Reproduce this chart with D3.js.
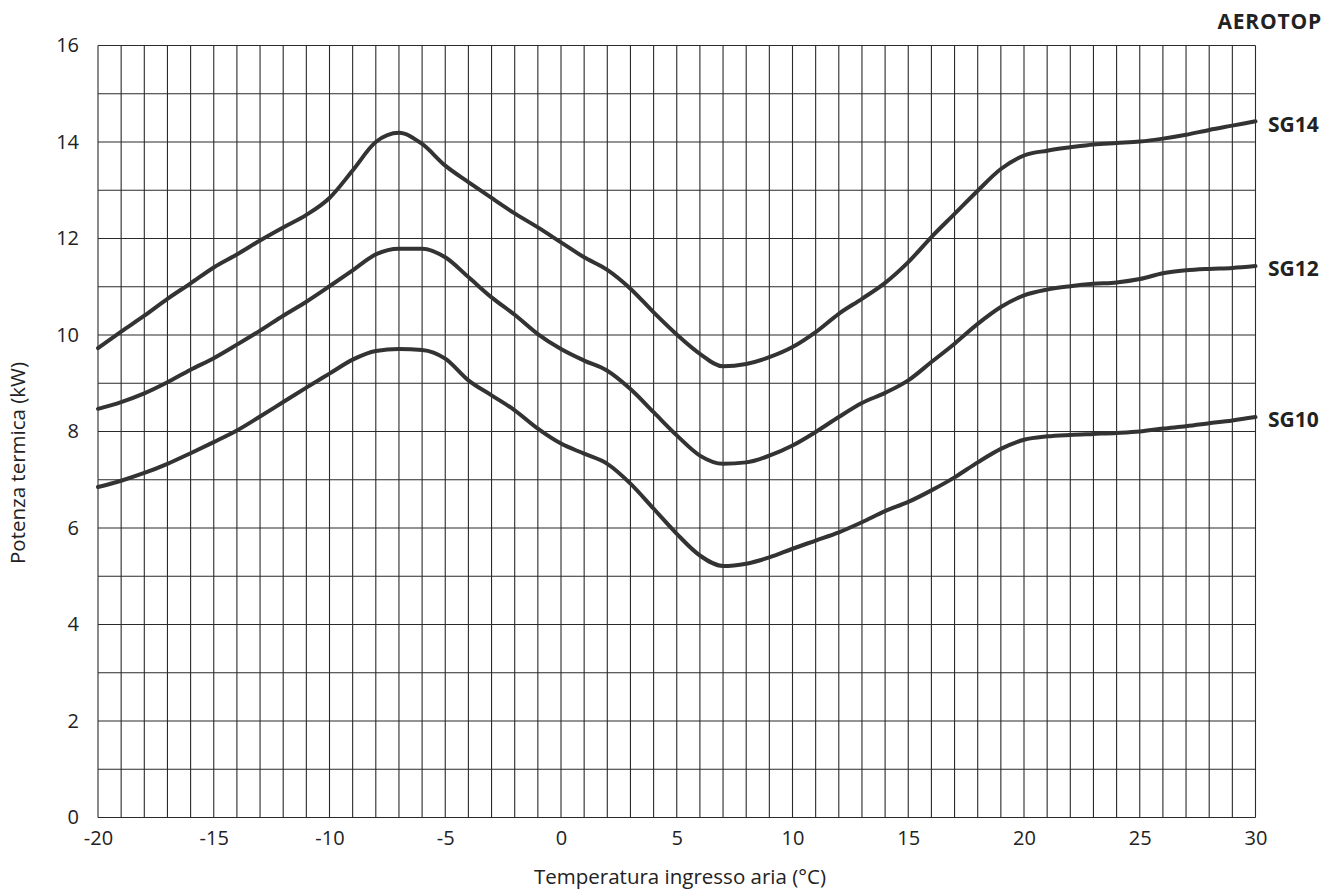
<!DOCTYPE html>
<html><head><meta charset="utf-8">
<script src="https://cdn.jsdelivr.net/npm/d3@7"></script>
<style>body{margin:0;background:#fff}svg{display:block}text{font-family:"Open Sans",sans-serif;fill:#222}</style>
</head><body>
<svg id="c" width="1326" height="893"></svg>
<script>
const temps = d3.range(-20, 31, 1);
const sg14 = [9.73,10.07,10.40,10.75,11.07,11.40,11.67,11.96,12.23,12.49,12.84,13.41,14.00,14.19,13.96,13.51,13.17,12.84,12.52,12.23,11.92,11.61,11.35,10.96,10.47,10.01,9.61,9.35,9.40,9.54,9.75,10.06,10.44,10.75,11.08,11.51,12.03,12.51,12.99,13.44,13.72,13.82,13.89,13.95,13.98,14.01,14.07,14.15,14.25,14.34,14.43];
const sg12 = [8.47,8.61,8.79,9.02,9.28,9.52,9.80,10.09,10.40,10.69,11.01,11.34,11.67,11.79,11.79,11.61,11.20,10.78,10.42,10.02,9.71,9.47,9.26,8.88,8.40,7.92,7.50,7.33,7.36,7.50,7.71,7.99,8.30,8.59,8.80,9.06,9.44,9.82,10.23,10.58,10.82,10.94,11.01,11.06,11.09,11.16,11.28,11.34,11.37,11.39,11.43];
const sg10 = [6.85,6.98,7.14,7.33,7.55,7.78,8.02,8.31,8.61,8.91,9.20,9.49,9.67,9.71,9.69,9.51,9.06,8.75,8.44,8.06,7.75,7.54,7.33,6.92,6.40,5.88,5.43,5.21,5.26,5.39,5.57,5.74,5.91,6.12,6.35,6.54,6.78,7.05,7.36,7.64,7.83,7.90,7.93,7.95,7.97,8.00,8.06,8.11,8.17,8.23,8.30];
const seriesNames = ["SG14","SG12","SG10"];
const seriesValues = [sg14, sg12, sg10];
const xTicks = [-20,-15,-10,-5,0,5,10,15,20,25,30];
const yTicks = [0,2,4,6,8,10,12,14,16];
const title = "AEROTOP";
const xTitle = "Temperatura ingresso aria (°C)";
const yTitle = "Potenza termica (kW)";

const svg = d3.select("#c");
const L = 98, R = 1255.5, T = 45.5, B = 817.5;
const x = d3.scaleLinear().domain([-20,30]).range([L,R]);
const y = d3.scaleLinear().domain([0,16]).range([B,T]);
const FF = "'Open Sans', sans-serif";

const grid = svg.append("g").attr("stroke","#2a2a2a").attr("stroke-width",1.1);
grid.selectAll("line.v").data(d3.range(-20,31,1)).join("line")
  .attr("x1",d=>x(d)).attr("x2",d=>x(d)).attr("y1",T).attr("y2",B);
grid.selectAll("line.h").data(d3.range(0,17,1)).join("line")
  .attr("x1",L).attr("x2",R).attr("y1",d=>y(d)).attr("y2",d=>y(d));

const xa = svg.append("g").attr("transform",`translate(0,${B})`)
  .call(d3.axisBottom(x).tickValues(xTicks).tickSize(0).tickPadding(13).tickFormat(d=>String(d)));
xa.select(".domain").remove();
xa.selectAll("text").attr("font-size",20).attr("font-family",FF).attr("fill","#222");

const ya = svg.append("g").attr("transform",`translate(${L},0)`)
  .call(d3.axisLeft(y).tickValues(yTicks).tickSize(0).tickPadding(19).tickFormat(d=>String(d)));
ya.select(".domain").remove();
ya.selectAll("text").attr("font-size",20).attr("font-family",FF).attr("fill","#222");

const line = d3.line().x((d,i)=>x(temps[i])).y(d=>y(d)).curve(d3.curveMonotoneX);
svg.append("g").selectAll("path").data(seriesValues).join("path")
  .attr("d",line).attr("fill","none").attr("stroke","#333").attr("stroke-width",4)
  .attr("stroke-linejoin","round").attr("stroke-linecap","round");

svg.append("g").selectAll("text").data(seriesNames).join("text")
  .attr("x",1268).attr("y",(d,i)=>y(seriesValues[i][50])+3)
  .attr("dy","0.35em").attr("font-size",21).attr("font-weight","bold").text(d=>d);

svg.append("text").attr("x",1322).attr("y",29).attr("text-anchor","end")
  .attr("font-size",21).attr("font-weight","bold").attr("letter-spacing",0.8).text(title);

svg.append("text").attr("x",680).attr("y",884).attr("text-anchor","middle")
  .attr("font-size",20.5).text(xTitle);

svg.append("text").attr("transform","translate(25,463) rotate(-90)").attr("text-anchor","middle")
  .attr("font-size",20.5).text(yTitle);
</script>
</body></html>
